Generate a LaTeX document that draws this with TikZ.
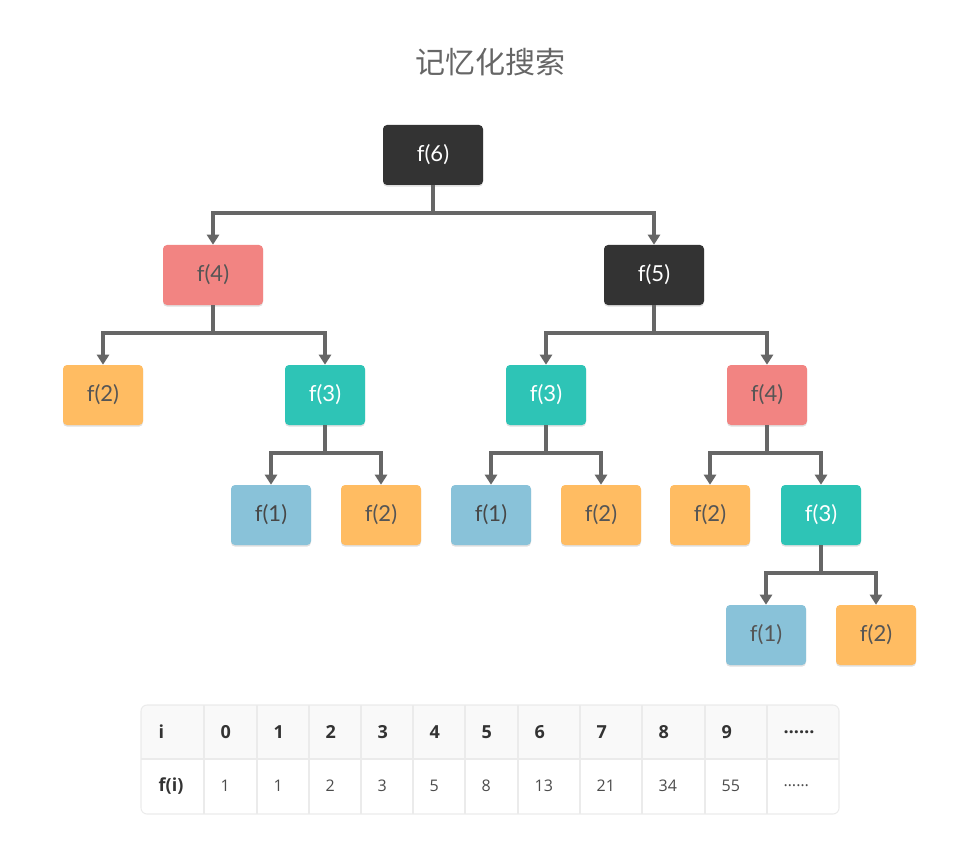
\documentclass[tikz,border=0pt]{standalone}
\usepackage{fontspec}
\setmainfont{Lato}
\newfontfamily\cjkfont{Noto Sans CJK SC}
\newfontfamily\tablefont{Open Sans}
\usetikzlibrary{shadows,arrows.meta}
\definecolor{boxdark}{HTML}{333333}
\definecolor{boxred}{HTML}{F28482}
\definecolor{boxorange}{HTML}{FFBC62}
\definecolor{boxteal}{HTML}{2EC4B6}
\definecolor{boxblue}{HTML}{89C2D9}
\definecolor{linkgray}{HTML}{666666}
\definecolor{txtgray}{HTML}{555555}
\definecolor{gridline}{HTML}{EBEBEB}
\definecolor{headfill}{HTML}{F9F9F9}
\tikzset{
  box/.style={rounded corners=3pt, minimum height=45pt, inner sep=0pt,
    drop shadow={opacity=0.25, shadow xshift=0pt, shadow yshift=-1.2pt},
    font=\fontsize{16.5}{19}\selectfont},
  wide/.style={box, minimum width=75pt},
  narrow/.style={box, minimum width=60pt},
  darkbox/.style={fill=boxdark, text=white},
  redbox/.style={fill=boxred, text=txtgray},
  orangebox/.style={fill=boxorange, text=txtgray},
  tealbox/.style={fill=boxteal, text=white},
  bluebox/.style={fill=boxblue, text=boxdark!90},
  link/.style={draw=linkgray, line width=2.9pt, -{Triangle[length=7.5pt,width=9pt]}},
  stem/.style={draw=linkgray, line width=2.9pt},
  headcell/.style={anchor=west, text=boxdark, font=\tablefont\bfseries\fontsize{13.5}{16}\selectfont},
  bodycell/.style={anchor=west, text=txtgray!90!black, font=\tablefont\fontsize{12}{14}\selectfont},
}
\begin{document}
\begin{tikzpicture}[x=0.75pt,y=-0.75pt]
\useasboundingbox (0,0) rectangle (980,855);

% title
\node[text=linkgray, font=\cjkfont\fontsize{22.5}{26}\selectfont] (title) at (490,62) {记忆化搜索};

% recursion tree
\node[wide, darkbox]   (f6)  at (433,155) {f(6)};
\node[wide, redbox]    (f4a) at (213,275) {f(4)};
\node[wide, darkbox]   (f5)  at (654,275) {f(5)};
\node[narrow, orangebox] (f2a) at (103,395) {f(2)};
\node[narrow, tealbox]   (f3a) at (325,395) {f(3)};
\node[narrow, tealbox]   (f3b) at (546,395) {f(3)};
\node[narrow, redbox]    (f4b) at (767,395) {f(4)};
\node[narrow, bluebox]   (f1a) at (271,515) {f(1)};
\node[narrow, orangebox] (f2b) at (381,515) {f(2)};
\node[narrow, bluebox]   (f1b) at (491,515) {f(1)};
\node[narrow, orangebox] (f2c) at (601,515) {f(2)};
\node[narrow, orangebox] (f2d) at (710,515) {f(2)};
\node[narrow, tealbox]   (f3c) at (821,515) {f(3)};
\node[narrow, bluebox, text=txtgray] (f1c) at (766,635) {f(1)};
\node[narrow, orangebox] (f2e) at (876,635) {f(2)};

% connectors: parent stem, then a branch to each child
\foreach \p/\l/\r in {f6/f4a/f5, f4a/f2a/f3a, f5/f3b/f4b, f3a/f1a/f2b, f3b/f1b/f2c, f4b/f2d/f3c, f3c/f1c/f2e}{
  \draw[stem] (\p.south) -- ++(0,28) coordinate (j-\p);
  \draw[link] (j-\p) -| (\l.north);
  \draw[link] (j-\p) -| (\r.north);
}

% memo table
\begin{scope}
  \clip[rounded corners=4.5pt] (141,705) rectangle (839,814);
  \fill[headfill] (141,705) rectangle (839,759);
  \foreach \x in {204,257,309,361,413,465,518,580,642,705,767}
    \draw[gridline, line width=0.8pt] (\x,705) -- (\x,814);
  \draw[gridline, line width=0.8pt] (141,759) -- (839,759);
\end{scope}
\draw[gridline, line width=0.8pt, rounded corners=4.5pt] (141,705) rectangle (839,814);

\node[headcell] (hi) at (154,732) {i};
\node[headcell] (bi) at (154,786) {f(i)};
\foreach \x/\n/\v [count=\k] in {204/0/1, 257/1/1, 309/2/2, 361/3/3, 413/4/5, 465/5/8, 518/6/13, 580/7/21, 642/8/34, 705/9/55}{
  \node[headcell] (h\k) at (\x+12,732) {\n};
  \node[bodycell] (b\k) at (\x+12,786) {\v};
}
\node[headcell] (hdots) at (779,732) {……};
\node[bodycell] (bdots) at (779,786) {……};
\end{tikzpicture}
\end{document}
